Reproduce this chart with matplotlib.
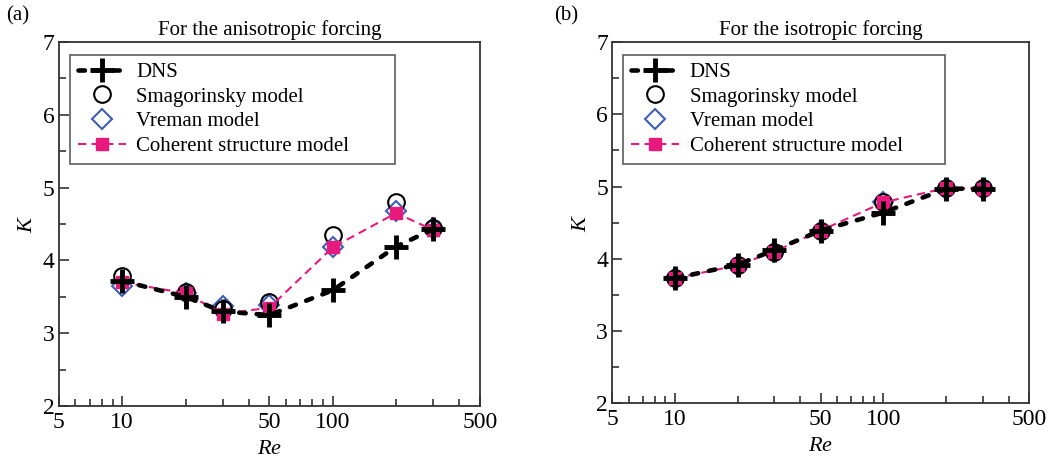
import numpy as np
import matplotlib
matplotlib.use('Agg')
import matplotlib.pyplot as plt
from matplotlib.ticker import FixedLocator, FixedFormatter, NullFormatter

plt.rcParams['font.family'] = 'Liberation Serif'
plt.rcParams['mathtext.fontset'] = 'custom'
plt.rcParams['mathtext.it'] = 'Liberation Serif:italic'

re = [10, 20, 30, 50, 100, 200, 300]

# anisotropic forcing
dns_a = [3.72, 3.50, 3.30, 3.25, 3.59, 4.19, 4.43]
smag_a = [3.78, 3.57, 3.34, 3.43, 4.35, 4.80, 4.45]
vrem_a = [3.65, 3.55, 3.37, 3.39, 4.18, 4.68, 4.45]
csm_a = [3.70, 3.55, 3.27, 3.35, 4.18, 4.65, 4.42]

# isotropic forcing
dns_b = [3.73, 3.92, 4.12, 4.39, 4.64, 4.97, 4.97]
smag_b = [3.73, 3.91, 4.10, 4.39, 4.78, 4.98, 4.98]
vrem_b = [3.73, 3.90, 4.10, 4.39, 4.78, 4.97, 4.96]
csm_b = [3.73, 3.91, 4.10, 4.39, 4.78, 4.98, 4.97]

pink = '#e8197d'
blue = '#3f5fb5'
spine_col = '#333333'

fig = plt.figure(figsize=(10.5, 4.61), dpi=100)
ax_a = fig.add_axes([0.056, 0.119, 0.401, 0.790])
ax_b = fig.add_axes([0.583, 0.125, 0.397, 0.784])


def draw_panel(ax, dns, smag, vrem, csm, title):
    ax.plot(re, vrem, linestyle='none', marker='D', ms=10.5, mfc='none',
            mec=blue, mew=1.5, label='Vreman model', zorder=3)
    ax.plot(re, smag, linestyle='none', marker='o', ms=12, mfc='none',
            mec='black', mew=1.5, label='Smagorinsky model', zorder=4)
    ax.plot(re, csm, linestyle=(0, (4, 2.5)), color=pink, lw=1.5, marker='s',
            ms=8, mfc=pink, mec=pink, label='Coherent structure model', zorder=5)
    ax.plot(re, dns, linestyle=(0, (1.4, 2.4)), color='black', lw=3.3,
            dash_capstyle='round', marker='+', ms=17, mew=3.5,
            label='DNS', zorder=6)

    ax.set_xscale('log')
    ax.set_xlim(5, 500)
    ax.set_ylim(2, 7)
    ax.xaxis.set_major_locator(FixedLocator([5, 10, 50, 100, 500]))
    ax.xaxis.set_major_formatter(FixedFormatter(['5', '10', '50', '100', '500']))
    ax.xaxis.set_minor_locator(FixedLocator([6, 7, 8, 9, 20, 30, 40, 60, 70, 80, 90, 200, 300, 400]))
    ax.xaxis.set_minor_formatter(NullFormatter())
    ax.set_yticks([2, 3, 4, 5, 6, 7])
    ax.set_yticks([2.5, 3.5, 4.5, 5.5, 6.5], minor=True)
    ax.tick_params(which='both', direction='in', top=False, right=False,
                   labelsize=17, color=spine_col, width=1.2)
    ax.tick_params(which='major', length=7)
    ax.tick_params(axis='x', which='major', pad=4)
    ax.tick_params(axis='y', which='major', pad=3)
    ax.tick_params(which='minor', length=5)
    for s in ax.spines.values():
        s.set_color(spine_col)
        s.set_linewidth(1.3)

    ax.set_xlabel('$Re$', fontsize=16, labelpad=5)
    ax.set_ylabel('$K$', fontsize=16, labelpad=4)
    ax.set_title(title, fontsize=15, pad=5)

    handles, labels = ax.get_legend_handles_labels()
    order = [3, 1, 0, 2]
    leg = ax.legend([handles[i] for i in order], [labels[i] for i in order],
                    loc='upper left', bbox_to_anchor=(0.027, 0.965, 0.772, 0.0),
                    mode='expand', fontsize=15,
                    frameon=True, fancybox=False, edgecolor=spine_col,
                    handlelength=2.3, handletextpad=0.5, labelspacing=0.24,
                    borderpad=0.38, borderaxespad=0)
    leg.get_frame().set_linewidth(1.2)


draw_panel(ax_a, dns_a, smag_a, vrem_a, csm_a, 'For the anisotropic forcing')
draw_panel(ax_b, dns_b, smag_b, vrem_b, csm_b, 'For the isotropic forcing')

fig.text(0.006, 0.965, '(a)', fontsize=15, va='center', ha='left')
fig.text(0.528, 0.965, '(b)', fontsize=15, va='center', ha='left')

fig.savefig('out.png', dpi=100)
